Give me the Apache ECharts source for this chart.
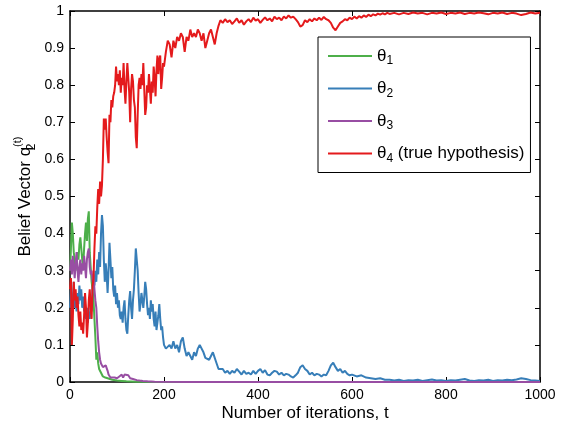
<!DOCTYPE html>
<html>
<head>
<meta charset="utf-8">
<script src="https://cdn.jsdelivr.net/npm/echarts@6/dist/echarts.min.js"></script>
<style>html,body{margin:0;padding:0;background:#fff;}#c{width:563px;height:421px;}</style>
</head>
<body>
<div id="c"></div>
<script>
// ---- data ----
const seriesNames = ['θ1', 'θ2', 'θ3', 'θ4 (true hypothesis)'];
const xTicks = [0, 200, 400, 600, 800, 1000];

const greenIter = [0,2,4,6,8,10,12,14,16,18,20,22,24,26,28,30,32,34,36,38,40,42,44,46,48,50,52,54,56,58,60,62,64,66,68,70,75,80,85,90,100,110,120,140,200,400,700,1000];
const greenVal  = [0.30,0.36,0.43,0.40,0.35,0.33,0.30,0.32,0.35,0.33,0.37,0.39,0.36,0.33,0.31,0.36,0.40,0.43,0.38,0.44,0.46,0.35,0.31,0.27,0.25,0.22,0.17,0.12,0.06,0.08,0.05,0.035,0.03,0.025,0.02,0.015,0.012,0.01,0.008,0.006,0.004,0.003,0.002,0.001,0,0,0,0];

const purpleIter = [0,2,4,6,8,10,12,14,16,18,20,22,24,26,28,30,32,34,36,38,40,42,44,46,48,50,52,54,56,58,60,62,64,66,68,70,72,74,76,78,80,82,84,86,88,90,95,100,105,110,113,116,120,124,128,131,134,138,142,148,155,165,180,250,400,700,1000];
const purpleVal  = [0.30,0.33,0.29,0.34,0.31,0.28,0.32,0.35,0.30,0.27,0.31,0.33,0.29,0.32,0.30,0.34,0.31,0.28,0.33,0.35,0.36,0.31,0.29,0.30,0.27,0.29,0.25,0.22,0.20,0.15,0.11,0.08,0.06,0.05,0.045,0.04,0.045,0.04,0.045,0.04,0.03,0.02,0.015,0.012,0.01,0.01,0.012,0.01,0.015,0.02,0.012,0.02,0.015,0.018,0.01,0.015,0.008,0.006,0.005,0.004,0.003,0.002,0.001,0,0,0,0];

const blueIter = [0,2,4,6,8,10,12,14,16,18,20,22,24,26,28,30,32,34,36,38,40,42,44,46,48,50,52,54,56,58,60,62,64,66,68,70,72,74,76,78,80,82,84,86,88,90,92,94,96,98,100,102,104,106,108,110,112,114,116,118,120,122,124,126,128,130,132,134,136,138,140,142,144,146,148,150,152,154,156,158,160,162,164,166,168,170,172,174,176,178,180,182,184,186,188,190,192,194,196,198,200,204,208,212,216,220,224,228,232,236,240,244,248,252,256,260,264,268,272,276,280,284,288,292,296,300,304,308,312,316,320,325,330,335,340,345,350,355,360,365,370,375,380,385,390,395,400,405,410,415,420,425,430,435,440,445,450,455,460,465,470,475,480,485,490,495,500,505,510,515,520,525,530,535,540,545,550,555,560,565,570,575,580,585,590,595,600,610,620,630,640,650,660,670,680,690,700,710,720,730,740,750,760,770,780,790,800,810,820,830,840,850,860,870,880,890,900,910,920,930,940,950,960,970,980,990,1000];
const blueVal  = [0.20,0.25,0.18,0.22,0.27,0.20,0.23,0.19,0.24,0.21,0.26,0.22,0.25,0.20,0.23,0.19,0.21,0.17,0.20,0.16,0.19,0.17,0.21,0.19,0.25,0.28,0.26,0.30,0.27,0.33,0.29,0.35,0.31,0.40,0.45,0.42,0.33,0.27,0.32,0.29,0.24,0.30,0.375,0.33,0.28,0.31,0.25,0.23,0.26,0.21,0.24,0.20,0.22,0.18,0.17,0.19,0.16,0.20,0.22,0.17,0.14,0.13,0.18,0.22,0.245,0.20,0.17,0.22,0.25,0.30,0.36,0.33,0.30,0.24,0.19,0.21,0.24,0.22,0.20,0.23,0.27,0.25,0.21,0.18,0.20,0.17,0.22,0.19,0.21,0.17,0.15,0.19,0.14,0.16,0.18,0.21,0.17,0.14,0.15,0.12,0.10,0.09,0.085,0.10,0.09,0.11,0.09,0.10,0.08,0.11,0.12,0.09,0.07,0.08,0.07,0.06,0.08,0.07,0.09,0.10,0.095,0.08,0.065,0.07,0.06,0.065,0.08,0.085,0.05,0.035,0.03,0.035,0.025,0.03,0.022,0.03,0.025,0.035,0.028,0.02,0.03,0.022,0.025,0.02,0.03,0.022,0.03,0.035,0.025,0.032,0.02,0.018,0.025,0.03,0.028,0.02,0.025,0.018,0.022,0.02,0.015,0.012,0.018,0.025,0.04,0.045,0.035,0.03,0.02,0.025,0.018,0.022,0.02,0.015,0.02,0.018,0.03,0.045,0.052,0.04,0.03,0.035,0.025,0.03,0.022,0.018,0.02,0.015,0.018,0.012,0.01,0.008,0.01,0.006,0.006,0.004,0.006,0.003,0.005,0.004,0.006,0.003,0.005,0.007,0.004,0.005,0.003,0.005,0.004,0.006,0.008,0.004,0.003,0.005,0.004,0.006,0.003,0.005,0.004,0.006,0.005,0.007,0.01,0.008,0.005,0.004,0.003];

const redIter = [0,2,4,6,8,10,12,14,16,18,20,22,24,26,28,30,32,34,36,38,40,42,44,46,48,50,52,54,56,58,60,62,64,66,68,70,72,74,76,78,80,82,84,86,88,90,92,94,96,98,100,102,104,106,108,110,112,114,116,118,120,122,124,126,128,130,132,134,136,138,140,142,144,146,148,150,152,154,156,158,160,162,164,166,168,170,172,174,176,178,180,182,184,186,188,190,192,194,196,198,200,204,208,212,216,220,224,228,232,236,240,244,248,252,256,260,264,268,272,276,280,284,288,292,296,300,304,308,312,316,320,325,330,335,340,345,350,355,360,365,370,375,380,385,390,395,400,405,410,415,420,425,430,435,440,445,450,455,460,465,470,475,480,485,490,495,500,505,510,515,520,525,530,535,540,545,550,555,560,565,570,575,580,585,590,595,600,605,610,615,620,625,630,635,640,645,650,655,660,665,670,675,680,690,700,710,720,730,740,750,760,770,780,790,800,810,820,830,840,850,860,870,880,890,900,910,920,930,940,950,960,970,980,990,1000];
const redVal  = [0.25,0.28,0.10,0.17,0.27,0.22,0.25,0.20,0.23,0.18,0.15,0.19,0.14,0.16,0.13,0.18,0.24,0.20,0.12,0.16,0.22,0.25,0.20,0.17,0.26,0.28,0.36,0.42,0.40,0.47,0.52,0.48,0.54,0.50,0.53,0.60,0.71,0.68,0.71,0.66,0.62,0.59,0.72,0.70,0.76,0.74,0.77,0.78,0.80,0.85,0.81,0.83,0.80,0.84,0.78,0.82,0.80,0.86,0.79,0.75,0.81,0.86,0.82,0.78,0.70,0.79,0.83,0.81,0.76,0.74,0.66,0.63,0.72,0.80,0.82,0.79,0.83,0.80,0.86,0.79,0.72,0.74,0.80,0.78,0.83,0.79,0.75,0.81,0.78,0.85,0.82,0.77,0.84,0.88,0.83,0.87,0.88,0.79,0.82,0.86,0.85,0.89,0.92,0.91,0.875,0.92,0.90,0.93,0.92,0.94,0.93,0.89,0.93,0.92,0.95,0.93,0.94,0.93,0.95,0.94,0.92,0.94,0.90,0.92,0.94,0.95,0.93,0.91,0.94,0.96,0.975,0.968,0.978,0.97,0.975,0.965,0.972,0.98,0.968,0.975,0.963,0.972,0.978,0.97,0.982,0.974,0.978,0.968,0.976,0.983,0.975,0.98,0.972,0.985,0.978,0.982,0.975,0.985,0.98,0.988,0.982,0.985,0.978,0.97,0.958,0.962,0.975,0.97,0.978,0.972,0.98,0.975,0.982,0.976,0.984,0.978,0.975,0.968,0.955,0.948,0.958,0.968,0.972,0.978,0.975,0.982,0.978,0.985,0.98,0.986,0.982,0.988,0.984,0.99,0.986,0.991,0.988,0.993,0.99,0.994,0.991,0.995,0.992,0.995,0.991,0.995,0.992,0.996,0.993,0.995,0.991,0.995,0.993,0.996,0.992,0.995,0.993,0.996,0.992,0.995,0.993,0.996,0.994,0.991,0.995,0.993,0.996,0.992,0.995,0.993,0.989,0.992,0.996,0.993,0.995];

const colors = ['#4daf4a', '#377eb8', '#984ea3', '#e41a1c'];

function pairs(xs, ys) { return xs.map((x, i) => [x, ys[i]]); }
const seriesData = [pairs(greenIter, greenVal), pairs(blueIter, blueVal), pairs(purpleIter, purpleVal), pairs(redIter, redVal)];

const FONT = 'Liberation Sans, Arial, Helvetica, sans-serif';
const chart = echarts.init(document.getElementById('c'), null, { renderer: 'canvas' });

const tickStyle = { show: true, inside: true, length: 5, lineStyle: { color: '#000', width: 1 } };
const lineStyleAxis = { show: true, onZero: false, lineStyle: { color: '#000', width: 1.5 } };

chart.setOption({
  animation: false,
  backgroundColor: '#fff',
  grid: { left: 70, right: 23, top: 11, bottom: 39, containLabel: false, outerBoundsMode: 'none' },
  legend: {
    orient: 'vertical', left: 318, top: 37,
    padding: [8, 6, 8, 10],
    itemWidth: 44, itemHeight: 2, itemGap: 10.5,
    icon: 'rect',
    backgroundColor: '#fff', borderColor: '#000', borderWidth: 1,
    data: seriesNames,
    formatter: function (name) {
      const m = name.match(/^θ(\d)(.*)$/);
      return '{t|θ}{s|' + m[1] + '}' + (m[2] ? '{t|' + m[2] + '}' : '');
    },
    textStyle: {
      fontFamily: FONT, color: '#000', lineHeight: 22,
      rich: {
        t: { fontSize: 17, fontFamily: FONT, color: '#000', lineHeight: 22, verticalAlign: 'middle' },
        s: { fontSize: 12, fontFamily: FONT, color: '#000', lineHeight: 12, verticalAlign: 'bottom' }
      }
    }
  },
  xAxis: [{
    type: 'value', min: 0, max: 1000, interval: 200,
    name: 'Number of iterations, t', nameLocation: 'middle', nameGap: 23, nameMoveOverlap: false,
    nameTextStyle: { fontFamily: FONT, fontSize: 17, color: '#000' },
    axisLine: lineStyleAxis, axisTick: tickStyle,
    axisLabel: { fontFamily: FONT, fontSize: 14, color: '#000', margin: 6,
      formatter: function (v) { return xTicks.indexOf(v) >= 0 ? String(v) : ''; } },
    splitLine: { show: false }
  }, {
    type: 'value', min: 0, max: 1000, interval: 200, position: 'top',
    axisLine: lineStyleAxis, axisTick: tickStyle, axisLabel: { show: false }, splitLine: { show: false }
  }],
  yAxis: [{
    type: 'value', min: 0, max: 1, interval: 0.1,
    name: '{a|Belief Vector q}{b|2}{c|(t)}', nameLocation: 'middle', nameRotate: 90, nameGap: 32, nameMoveOverlap: false,
    nameTextStyle: {
      fontFamily: FONT, fontSize: 17, color: '#000',
      rich: {
        a: { fontSize: 17, fontFamily: FONT, color: '#000', lineHeight: 26, verticalAlign: 'middle' },
        b: { fontSize: 12, fontFamily: FONT, color: '#000', lineHeight: 12, verticalAlign: 'bottom', width: 0 },
        c: { fontSize: 11, fontFamily: FONT, color: '#000', lineHeight: 11, verticalAlign: 'top' }
      }
    },
    axisLine: lineStyleAxis, axisTick: tickStyle,
    axisLabel: { fontFamily: FONT, fontSize: 14, color: '#000', margin: 6,
      formatter: function (v) { return String(Math.round(v * 10) / 10); } },
    splitLine: { show: false }
  }, {
    type: 'value', min: 0, max: 1, interval: 0.1, position: 'right',
    axisLine: lineStyleAxis, axisTick: tickStyle, axisLabel: { show: false }, splitLine: { show: false }
  }],
  series: seriesNames.map((n, i) => ({
    name: n, type: 'line', data: seriesData[i], symbol: 'none', showSymbol: false,
    clip: false, z: 3 + i,
    color: colors[i],
    lineStyle: { color: colors[i], width: 2 },
    itemStyle: { color: colors[i] }
  }))
});
</script>
</body>
</html>
